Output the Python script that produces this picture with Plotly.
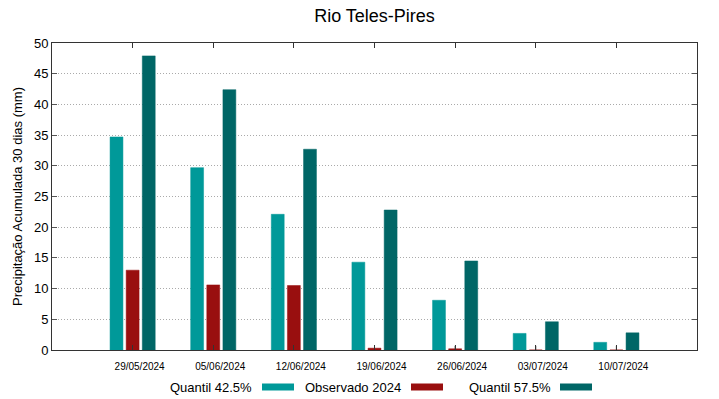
import plotly.graph_objects as go

dates = ["29/05/2024", "05/06/2024", "12/06/2024", "19/06/2024", "26/06/2024", "03/07/2024", "10/07/2024"]
q425 = [34.7, 29.7, 22.1, 14.3, 8.1, 2.7, 1.25]
obs2024 = [13.0, 10.6, 10.5, 0.3, 0.2, 0.0, 0.0]
q575 = [47.9, 42.4, 32.7, 22.8, 14.5, 4.6, 2.8]
series_names = ["Quantil 42.5%", "Observado 2024", "Quantil 57.5%"]
colors = ["#009999", "#990f0f", "#006666"]
yticks = [0, 5, 10, 15, 20, 25, 30, 35, 40, 45, 50]

xs = list(range(len(dates)))
L, R, T, B = 52, 22, 43, 49
W, H = 719, 399
pw, ph = W - L - R, H - T - B

fig = go.Figure()
offsets = [-0.28, -0.08, 0.12]
for vals, name, col, off in zip([q425, obs2024, q575], series_names, colors, offsets):
    fig.add_trace(go.Bar(x=xs, y=vals, name=name, width=0.16, offset=off,
                         marker=dict(color=col, line=dict(color=col, width=0.5)),
                         showlegend=False))

# small vertical marks for zero observed values (as in reference)
fig.add_trace(go.Scatter(x=[x for x, v in zip(xs, obs2024) if v < 0.25],
                         y=[0 for v in obs2024 if v < 0.25],
                         mode="markers", marker=dict(symbol="line-ns", size=6, line=dict(width=1, color="#333333")),
                         showlegend=False, hoverinfo="skip"))

fig.update_layout(
    width=W, height=H,
    margin=dict(l=L, r=R, t=T, b=B, autoexpand=False),
    paper_bgcolor="white", plot_bgcolor="white",
    barmode="overlay",
    font=dict(family="Liberation Sans, Arial, sans-serif", color="#000000"),
    title=dict(text="Rio Teles-Pires", x=(L + pw / 2) / W, xref="container", y=1 - 16 / H, yanchor="middle",
               yref="container", font=dict(size=18, color="#000000")),
    xaxis=dict(range=[-1, 7], tickmode="array", tickvals=xs, ticktext=dates,
               tickfont=dict(size=10), ticks="inside", ticklen=5, tickcolor="#333333",
               ticklabelshift=7, ticklabelstandoff=7,
               showline=True, linecolor="#333333", linewidth=1, mirror="allticks",
               showgrid=False, zeroline=False, automargin=False),
    yaxis=dict(range=[0, 50], tickmode="array", tickvals=yticks,
               tickfont=dict(size=13), ticks="inside", ticklen=5, tickcolor="#555555",
               showline=True, linecolor="#333333", linewidth=1, mirror="allticks",
               showgrid=True, gridcolor="#aaaaaa", griddash="1px,2px", gridwidth=1,
               zeroline=False, automargin=False,
               title=dict(text="Precipitação Acumulada 30 dias (mm)", font=dict(size=13), standoff=8)),
)

# legend: text then swatch, drawn manually below the axis
leg_y = (H - B - 387) / ph
items = [(254, 262, 294), (403, 411, 443), (553, 560, 592)]
for (tx, s0, s1), name, col in zip(items, series_names, colors):
    fig.add_annotation(x=(tx - L) / pw, y=leg_y, xref="paper", yref="paper", text=name,
                       showarrow=False, xanchor="right", yanchor="middle", font=dict(size=13))
    fig.add_shape(type="rect", xref="paper", yref="paper",
                  x0=(s0 - L) / pw, x1=(s1 - L) / pw,
                  y0=leg_y - 3.5 / ph, y1=leg_y + 3.5 / ph,
                  fillcolor=col, line=dict(width=0))

fig.write_html("out.html", config={"displayModeBar": False},
               post_script="document.body.style.margin='0';document.body.style.overflow='hidden';")
